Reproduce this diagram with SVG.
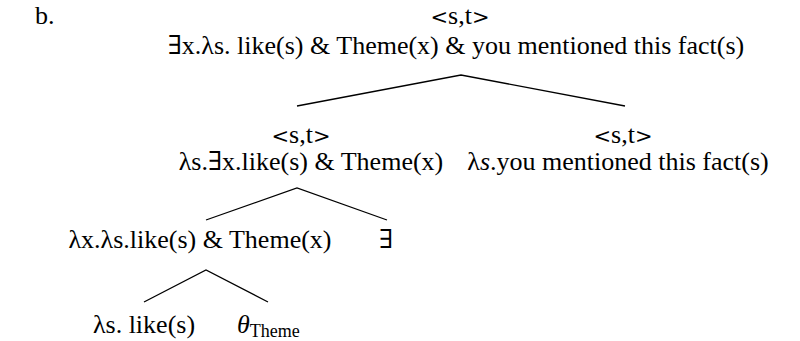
<svg xmlns="http://www.w3.org/2000/svg" width="800" height="341" viewBox="0 0 800 341">
  <style>
    text { font-family: "Liberation Serif", "DejaVu Serif", serif; font-size: 26px; fill: #000; }
    .c { text-anchor: middle; }
    .sub { font-size: 18px; }
    .it { font-style: italic; }
    .ang { font-family: "DejaVu Serif", serif; font-size: 21px; }
    .edge { stroke: #000; stroke-width: 1.3; fill: none; }
  </style>
  <rect width="800" height="341" fill="#fff"/>

  <text x="35" y="24">b.</text>

  <!-- root -->
  <g id="root">
    <text class="c" x="460" y="24"><tspan class="ang">&lt;</tspan>s,t<tspan class="ang">&gt;</tspan></text>
    <text class="c" x="456" y="54">∃x.λs. like(s) &amp; Theme(x) &amp; you mentioned this fact(s)</text>
  </g>

  <!-- left daughter of root -->
  <g id="exists-clause">
    <text class="c" x="301" y="143"><tspan class="ang">&lt;</tspan>s,t<tspan class="ang">&gt;</tspan></text>
    <text class="c" x="311" y="170">λs.∃x.like(s) &amp; Theme(x)</text>
  </g>

  <!-- right daughter of root -->
  <g id="mention-clause">
    <text class="c" x="623" y="143"><tspan class="ang">&lt;</tspan>s,t<tspan class="ang">&gt;</tspan></text>
    <text class="c" x="618" y="170">λ<tspan class="it">s</tspan>.you mentioned this fact(s)</text>
  </g>

  <g id="theme-pred">
    <text class="c" x="200" y="248">λx.λs.like(s) &amp; Theme(x)</text>
  </g>

  <g id="exists">
    <text class="c" x="386" y="248">∃</text>
  </g>

  <g id="like">
    <text class="c" x="144" y="333">λs. like(s)</text>
  </g>

  <g id="theta">
    <text x="237" y="333"><tspan class="it">θ</tspan><tspan class="sub" dy="4">Theme</tspan></text>
  </g>

  <!-- tree branches -->
  <g id="connectors">
    <path class="edge" d="M297 106 L461 75 L625 106"/>
    <path class="edge" d="M206 220 L297 188 L387 220"/>
    <path class="edge" d="M144 302 L206 270 L268 302"/>
  </g>
</svg>
